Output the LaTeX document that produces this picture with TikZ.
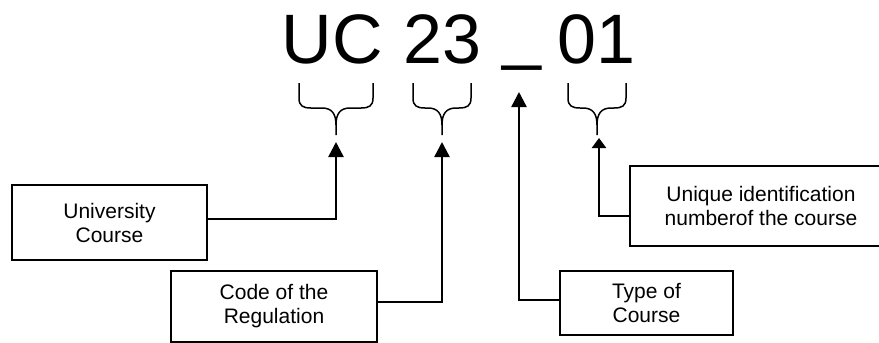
\documentclass[tikz,border=0pt]{standalone}
\usepackage{fontspec}
\setmainfont{Liberation Sans}
\usetikzlibrary{arrows.meta}
\newcommand{\mybrace}[3]{%
  \draw[bracestyle] (#1,83) -- (#1,98) .. controls (#1,106) and ({#1+4},108) .. ({#1+12},108)
    -- ({#3-14},108) .. controls ({#3-4},108) and (#3,114) .. (#3,125) -- (#3,135);
  \draw[bracestyle] (#2,83) -- (#2,98) .. controls (#2,106) and ({#2-4},108) .. ({#2-12},108)
    -- ({#3+14},108) .. controls ({#3+4},108) and (#3,114) .. (#3,125);
}
\begin{document}
\begin{tikzpicture}[x=1pt,y=-1pt,
  bigtext/.style={anchor=base west,inner sep=0pt,font=\fontsize{70}{70}\selectfont},
  box/.style={draw,line width=1.6pt,align=center,inner sep=0pt,
    font=\fontsize{21}{24}\selectfont},
  bracestyle/.style={line width=1.5pt},
  conn/.style={line width=2.4pt,-{Triangle[width=15pt,length=15pt]}},
  connsmall/.style={line width=2.4pt,-{Triangle[width=14pt,length=10pt]}}]
\useasboundingbox (0,0) rectangle (879,343);
% big code
\node[bigtext] (uc) at (281.5,63) {UC};
\node[bigtext] (n23) at (403,63) {23};
\node[bigtext] (us) at (502,56) {\_};
\node[bigtext] (n01) at (557,63) {01};
% braces
\mybrace{299}{373}{336}
\mybrace{413}{471}{442}
\mybrace{568}{626}{597}
% tips
\coordinate (t1) at (336,142);
\coordinate (t2) at (442,142);
\coordinate (t3) at (519,92);
\coordinate (t4) at (599,138);
% boxes
\node[box,minimum width=195pt,minimum height=75pt] (b1) at (109.5,222.5) {University\\Course};
\node[box,minimum width=206pt,minimum height=71pt] (b2) at (274,306.5) {Code of the\\Regulation};
\node[box,minimum width=262pt,minimum height=80pt] (b3) at (761,206) {Unique identification\\numberof the course};
\node[box,minimum width=173pt,minimum height=64pt] (b4) at (646.5,303) {Type of\\Course};
% connectors
\draw[conn] ([yshift=3.5pt]b1.east) -| (t1);
\draw[conn] ([yshift=4.5pt]b2.east) -| (t2);
\draw[conn] ([yshift=3pt]b4.west) -| (t3);
\draw[connsmall] ([yshift=-10pt]b3.west) -| (t4);
\end{tikzpicture}
\end{document}
